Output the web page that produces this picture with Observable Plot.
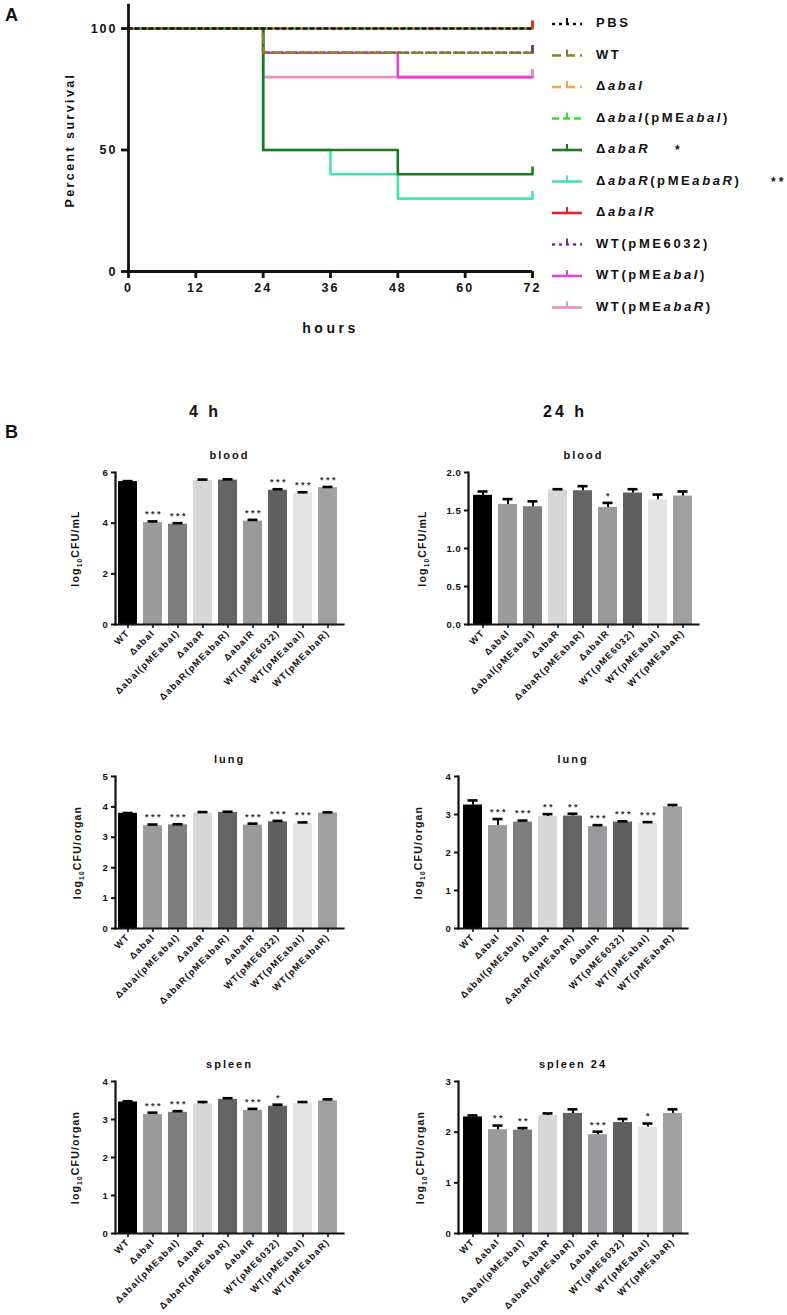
<!DOCTYPE html>
<html><head><meta charset="utf-8">
<script src="https://cdn.jsdelivr.net/npm/d3@7"></script>
<script src="https://cdn.jsdelivr.net/npm/@observablehq/plot@0.6"></script>
<style>
body{margin:0;background:#fff;}
#root{position:relative;width:787px;height:1315px;overflow:hidden;background:#fff;}
#root svg{position:absolute;overflow:visible;}
</style></head>
<body><div id="root"></div>
<script>
// ---------- Panel A data ----------
const survivalGroups = ["PBS","WT","ΔabaI","ΔabaI(pMEabaI)","ΔabaR","ΔabaR(pMEabaR)","ΔabaIR","WT(pME6032)","WT(pMEabaI)","WT(pMEabaR)"];
const survivalSig = ["","","","","*","**","","","",""];
const survivalTimes = [0,24,36,48,72];
const survPBS        = [100,100,100,100,100];
const survWT         = [100, 90, 90, 90, 90];
const survAbaI       = [100,100,100,100,100];
const survAbaIcomp   = [100,100,100,100,100];
const survAbaR       = [100, 50, 50, 40, 40];
const survAbaRcomp   = [100, 50, 40, 30, 30];
const survAbaIR      = [100,100,100,100,100];
const survWT6032     = [100, 90, 90, 90, 90];
const survWTabaI     = [100, 90, 90, 80, 80];
const survWTabaR     = [100, 80, 80, 80, 80];
const survivalValues = [survPBS,survWT,survAbaI,survAbaIcomp,survAbaR,survAbaRcomp,survAbaIR,survWT6032,survWTabaI,survWTabaR];
const survivalColors = ["#111111","#85851f","#f2a24e","#35e035","#1b7a1b","#3fe6b4","#ec2222","#7a2a9c","#e044d8","#f28cc6"];
const survivalDash   = ["3,4","9,5","9,5","7,4",null,null,null,"3,4",null,null];
const hourTicks = [0,12,24,36,48,60,72];
const percentTicks = [0,50,100];

// ---------- Panel B data ----------
const groups = ["WT","ΔabaI","ΔabaI(pMEabaI)","ΔabaR","ΔabaR(pMEabaR)","ΔabaIR","WT(pME6032)","WT(pMEabaI)","WT(pMEabaR)"];
const barColors = ["#000000","#9b9b9b","#7e7e7e","#d7d7d7","#656565","#9a9a9c","#606060","#e4e4e4","#a0a0a0"];

const blood4hMean = [5.64,4.02,3.96,5.69,5.70,4.08,5.30,5.18,5.40];
const blood4hErr  = [0.02,0.05,0.04,0.03,0.03,0.05,0.04,0.04,0.03];
const blood4hSig  = ["","***","***","","","***","***","***","***"];

const blood24hMean = [1.70,1.58,1.55,1.77,1.76,1.54,1.73,1.64,1.69];
const blood24hErr  = [0.05,0.07,0.07,0.01,0.06,0.06,0.05,0.07,0.06];
const blood24hSig  = ["","","","","","*","","",""];

const lung4hMean = [3.79,3.38,3.41,3.80,3.82,3.40,3.51,3.46,3.80];
const lung4hErr  = [0.01,0.04,0.02,0.03,0.02,0.05,0.03,0.03,0.02];
const lung4hSig  = ["","***","***","","","***","***","***",""];

const lung24hMean = [3.25,2.71,2.80,2.95,2.96,2.68,2.80,2.76,3.20];
const lung24hErr  = [0.12,0.17,0.04,0.06,0.06,0.04,0.02,0.04,0.05];
const lung24hSig  = ["","***","***","**","**","***","***","***",""];

const spleen4hMean = [3.46,3.13,3.19,3.41,3.53,3.24,3.35,3.42,3.49];
const spleen4hErr  = [0.02,0.05,0.03,0.05,0.03,0.04,0.04,0.04,0.04];
const spleen4hSig  = ["","***","***","","","***","*","",""];

const spleen24hMean = [2.30,2.05,2.04,2.33,2.37,1.95,2.19,2.10,2.37];
const spleen24hErr  = [0.03,0.08,0.04,0.04,0.08,0.06,0.07,0.07,0.08];
const spleen24hSig  = ["","**","**","","","***","","*",""];

const ticksBlood4h = [0,2,4,6];
const ticksBlood24h = [0,0.5,1,1.5,2];
const ticksLung4h = [0,1,2,3,4,5];
const ticksLung24h = [0,1,2,3,4];
const ticksSpleen4h = [0,1,2,3,4];
const ticksSpleen24h = [0,1,2,3];

// ---------- helpers ----------
const FONT = '"Liberation Sans", Arial, Helvetica, sans-serif';
const root = document.getElementById("root");
function place(svg, left, top){ svg.style.left = left+"px"; svg.style.top = top+"px"; root.appendChild(svg); return svg; }

// ---------- Panel A: survival ----------
const lineMarks = [];
for (let i = survivalGroups.length - 1; i >= 0; i--) {
  const pts = survivalTimes.map((t, j) => ({t, v: survivalValues[i][j]}));
  lineMarks.push(Plot.line(pts, {x: "t", y: "v", curve: "step-after", stroke: survivalColors[i], strokeWidth: 2.6, strokeDasharray: survivalDash[i] || undefined}));
}
const ends = survivalGroups.map((g, i) => ({t: survivalTimes[survivalTimes.length-1], v: survivalValues[i][survivalTimes.length-1], c: survivalColors[i]}));

const surv = Plot.plot({
  width: 560, height: 345,
  marginLeft: 128, marginRight: 28, marginTop: 28, marginBottom: 74,
  x: {domain: [0,72], label: null},
  y: {domain: [0,100], label: null},
  color: {type: "identity"},
  style: {fontFamily: FONT, fontWeight: "bold", color: "#111", background: "transparent"},
  marks: [
    ...lineMarks,
    Plot.ruleX(ends, {x: "t", y1: "v", y2: d => d.v + 3, stroke: "c", strokeWidth: 2.6}),
    Plot.ruleX([0], {y1: 0, y2: 110, strokeWidth: 2.8}),
    Plot.ruleY([0], {x1: 0, x2: 72, strokeWidth: 2.8}),
    Plot.axisX({ticks: hourTicks, tickSize: 7, tickPadding: 5, strokeWidth: 2.8, fontSize: 12.5, fontWeight: "bold", label: null}),
    Plot.axisY({ticks: percentTicks, tickSize: 7, tickPadding: 4, strokeWidth: 2.8, fontSize: 12.5, fontWeight: "bold", label: null}),
    Plot.text(["hours"], {text: d => d, frameAnchor: "bottom", dy: 61, fontSize: 14, fontWeight: "bold"}),
    Plot.text(["Percent survival"], {text: d => d, frameAnchor: "left", textAnchor: "middle", rotate: -90, dx: -59, dy: -10, fontSize: 12.5, fontWeight: "bold"})
  ]
});
place(surv, 0, 0);
d3.select(surv).selectAll("text").each(function() {
  const t = d3.select(this), s = t.text();
  if (s === "hours") t.style("letter-spacing", "3.5px");
  else if (s === "Percent survival") t.style("letter-spacing", "2.4px");
  else if (/^\d+$/.test(s)) t.style("letter-spacing", "2px");
});

// ---------- Panel B: bar charts ----------
function barChart(cfg) {
  const data = groups.map((g, i) => ({g, v: cfg.mean[i], e: cfg.err[i], s: cfg.sig[i], c: barColors[i]}));
  const step = (cfg.c8 - cfg.c0) / 8;
  const width = cfg.width;
  const mL = cfg.axisX - cfg.left;
  const mR = cfg.left + width - cfg.axisEnd;
  const svg = Plot.plot({
    width, height: 287,
    marginLeft: mL, marginRight: mR, marginTop: 40, marginBottom: 95,
    x: {domain: groups, range: [cfg.c0 - cfg.left - 0.5*step, cfg.c8 - cfg.left + 0.5*step], paddingInner: 0.24, paddingOuter: 0.12, label: null},
    y: {domain: [0, cfg.yMax], label: null},
    color: {type: "identity"},
    style: {fontFamily: FONT, fontWeight: "bold", color: "#111", background: "transparent"},
    marks: [
      Plot.barY(data, {x: "g", y: "v", fill: "c"}),
      Plot.ruleX(data, {x: "g", y1: "v", y2: d => d.v + d.e, strokeWidth: 2, stroke: "#000"}),
      Plot.tickY(data, {x: "g", y: d => d.v + d.e, strokeWidth: 2.6, inset: 4.5, stroke: "#000"}),
      Plot.text(data.filter(d => d.s), {x: "g", y: d => d.v + d.e, text: "s", dy: -7, dx: 1, fontSize: 9, fontWeight: "bold", fill: "#333"}),
      Plot.frame({anchor: "left", strokeWidth: 2.2}),
      Plot.frame({anchor: "bottom", strokeWidth: 2.2}),
      Plot.axisY({ticks: cfg.ticks, tickFormat: cfg.fmt, tickSize: 4, tickPadding: 3, strokeWidth: 2, fontSize: 9.5, fontWeight: "bold", label: null}),
      Plot.axisX({tickRotate: -45, tickSize: 4, tickPadding: 3, strokeWidth: 1.6, fontSize: 9.3, fontWeight: "bold", label: null}),
      Plot.text([cfg.title], {text: d => d, frameAnchor: "top", dy: -21, fontSize: 11, fontWeight: "bold"}),
      Plot.text([cfg.yLabel], {text: d => d, frameAnchor: "left", textAnchor: "middle", rotate: -90, dx: cfg.labelDx, fontSize: 10.5, fontWeight: "bold"})
    ]
  });
  place(svg, cfg.left, cfg.top);
  d3.select(svg).selectAll("text").each(function() {
    const t = d3.select(this), s = t.text();
    if (groups.includes(s)) t.style("letter-spacing", "1.2px");
    else if (/^[\d.]+$/.test(s)) t.style("letter-spacing", "0.6px");
    else if (/^\*+$/.test(s)) t.style("letter-spacing", "2.5px");
    else if (/^log10/.test(s)) {
      const rest = s.replace(/^log10/, "");
      t.text(null).style("letter-spacing", "1.2px");
      t.append("tspan").text("log");
      t.append("tspan").attr("font-size", 6.5).attr("dy", 3).text("10");
      t.append("tspan").attr("dy", -3).text(rest);
    } else if (s === cfg.title) t.style("letter-spacing", "2px");
  });
  return svg;
}

const fmtInt = d3.format("d");
const fmt1 = d3.format(".1f");
const col4h = {left: 0, width: 393, axisX: 115, axisEnd: 343, c0: 126, c8: 329};
const col24blood = {left: 393, width: 394, axisX: 468, axisEnd: 698, c0: 481, c8: 683};
const col24 = {left: 393, width: 394, axisX: 458, axisEnd: 687, c0: 471, c8: 673};

barChart({...col4h, top: 432, mean: blood4hMean, err: blood4hErr, sig: blood4hSig, yMax: 6, ticks: ticksBlood4h, fmt: fmtInt, title: "blood", yLabel: "log10CFU/mL", labelDx: -40});
barChart({...col24blood, top: 432, mean: blood24hMean, err: blood24hErr, sig: blood24hSig, yMax: 2, ticks: ticksBlood24h, fmt: fmt1, title: "blood", yLabel: "log10CFU/mL", labelDx: -46});
barChart({...col4h, top: 736, mean: lung4hMean, err: lung4hErr, sig: lung4hSig, yMax: 5, ticks: ticksLung4h, fmt: fmtInt, title: "lung", yLabel: "log10CFU/organ", labelDx: -38});
barChart({...col24, top: 736, mean: lung24hMean, err: lung24hErr, sig: lung24hSig, yMax: 4, ticks: ticksLung24h, fmt: fmtInt, title: "lung", yLabel: "log10CFU/organ", labelDx: -40});
barChart({...col4h, top: 1041, mean: spleen4hMean, err: spleen4hErr, sig: spleen4hSig, yMax: 4, ticks: ticksSpleen4h, fmt: fmtInt, title: "spleen", yLabel: "log10CFU/organ", labelDx: -40});
barChart({...col24, top: 1041, mean: spleen24hMean, err: spleen24hErr, sig: spleen24hSig, yMax: 3, ticks: ticksSpleen24h, fmt: fmtInt, title: "spleen 24", yLabel: "log10CFU/organ", labelDx: -38});

// ---------- overlay: panel letters, headings, legend ----------
const ov = d3.select(root).append("svg").attr("width", 787).attr("height", 1315)
  .style("left", "0px").style("top", "0px").style("pointer-events", "none")
  .attr("font-family", FONT).attr("font-weight", "bold").attr("fill", "#111");
ov.append("text").attr("x", 5).attr("y", 21).attr("font-size", 18).text("A");
ov.append("text").attr("x", 5).attr("y", 438).attr("font-size", 18).text("B");
ov.append("text").attr("x", 205).attr("y", 417).attr("font-size", 16).attr("text-anchor", "middle").style("letter-spacing", "3px").text("4 h");
ov.append("text").attr("x", 565).attr("y", 417).attr("font-size", 16).attr("text-anchor", "middle").style("letter-spacing", "3px").text("24 h");

survivalGroups.forEach((g, i) => {
  const y = 22 + i * 31.5;
  const sw = ov.append("g");
  const ln = sw.append("line").attr("x1", 552).attr("x2", 582).attr("y1", y + 2).attr("y2", y + 2)
    .attr("stroke", survivalColors[i]).attr("stroke-width", 2.6);
  if (survivalDash[i]) ln.attr("stroke-dasharray", survivalDash[i]);
  sw.append("line").attr("x1", 567).attr("x2", 567).attr("y1", y + 2).attr("y2", y - 4)
    .attr("stroke", survivalColors[i]).attr("stroke-width", 2);
  const t = ov.append("text").attr("x", 596).attr("y", y + 5).attr("font-size", 13).style("letter-spacing", "2.6px");
  g.split(/(aba(?:IR|I|R))/).filter(s => s).forEach(s => {
    const ts = t.append("tspan").text(s);
    if (/^aba/.test(s)) ts.attr("font-style", "italic");
  });
  if (survivalSig[i]) {
    ov.append("text").attr("x", i === 4 ? 675 : 771).attr("y", y + 6).attr("font-size", 12).style("letter-spacing", "3px").text(survivalSig[i]);
  }
});
</script>
</body></html>
